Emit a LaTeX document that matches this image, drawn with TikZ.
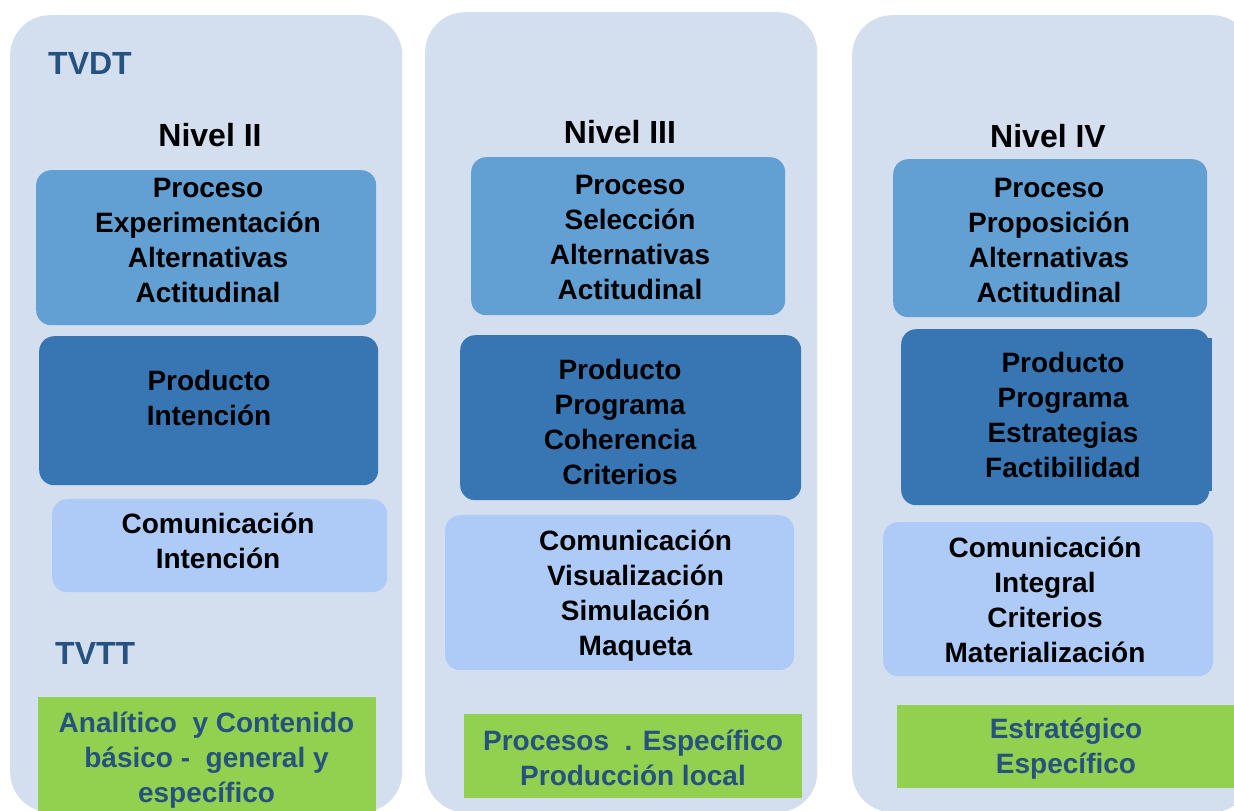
\documentclass[tikz,border=0pt]{standalone}
\usepackage{fontspec}
\setmainfont{Liberation Sans}
\definecolor{panelbg}{HTML}{D3DEEF}
\definecolor{procfill}{HTML}{629FD2}
\definecolor{prodfill}{HTML}{3776B3}
\definecolor{comfill}{HTML}{AECBF7}
\definecolor{greenfill}{HTML}{92D050}
\definecolor{darkblue}{HTML}{27527F}
\newcommand{\tst}{\rule{0pt}{21pt}}
\tikzset{
  panel/.style={fill=panelbg, draw=none, rounded corners=40pt, inner sep=0pt, anchor=north west},
  ibox/.style={draw=none, rounded corners=15pt, inner sep=0pt, anchor=north west},
  gbox/.style={fill=greenfill, draw=none, inner sep=0pt, anchor=north west},
  txt/.style={align=center, inner sep=0pt, anchor=north, text=black, font=\fontsize{28}{35}\selectfont\bfseries},
  gtxt/.style={txt, text=darkblue},
  head/.style={inner sep=0pt, anchor=base, text=black, font=\fontsize{32}{38}\selectfont\bfseries},
  tag/.style={inner sep=0pt, anchor=base west, text=darkblue, font=\fontsize{32}{38}\selectfont\bfseries}
}
\begin{document}
\begin{tikzpicture}[x=1pt,y=-1pt]
\useasboundingbox (0,0) rectangle (1234,811);
\clip (0,0) rectangle (1234,811);
\fill[white] (0,0) rectangle (1234,811);
% panels
\node[panel, minimum width=392pt, minimum height=797pt] (p1) at (10,15) {};
\node[panel, minimum width=392pt, minimum height=800pt] (p2) at (425,12) {};
\node[panel, minimum width=400pt, minimum height=797pt] (p3) at (852,15) {};
% panel 1 boxes
\node[ibox, fill=procfill, minimum width=340pt, minimum height=155pt] (pr1) at (36,170) {};
\node[ibox, fill=prodfill, minimum width=339pt, minimum height=149pt] (pd1) at (39,336) {};
\node[ibox, fill=comfill, minimum width=335pt, minimum height=93pt] (cm1) at (52,499) {};
\node[gbox, minimum width=338pt, minimum height=115pt] (gr1) at (38,697) {};
% panel 2 boxes
\node[ibox, fill=procfill, minimum width=314pt, minimum height=158pt] (pr2) at (471,157) {};
\node[ibox, fill=prodfill, minimum width=341pt, minimum height=165pt] (pd2) at (460,335) {};
\node[ibox, fill=comfill, minimum width=349pt, minimum height=155pt] (cm2) at (445,515) {};
\node[gbox, minimum width=338pt, minimum height=84pt] (gr2) at (464,714) {};
% panel 3 boxes
\node[ibox, fill=procfill, minimum width=314pt, minimum height=158pt] (pr3) at (893,159) {};
\node[ibox, fill=prodfill, minimum width=308pt, minimum height=176pt] (pd3) at (901,329) {};
\node[gbox, fill=prodfill, minimum width=12pt, minimum height=153pt] (pd3n) at (1200,338) {};
\node[ibox, fill=comfill, minimum width=330pt, minimum height=154pt] (cm3) at (883,522) {};
\node[gbox, minimum width=343pt, minimum height=83pt] (gr3) at (897,705) {};
% texts panel 1
\node[tag] (tvdt) at (48,74) {TVDT};
\node[head] (n2) at (210,146) {Nivel II};
\node[txt] (tpr1) at (208,176) {\tst Proceso\\Experimentación\\Alternativas\\Actitudinal};
\node[txt] (tpd1) at (209,369) {\tst Producto\\Intención};
\node[txt] (tcm1) at (218,512) {\tst Comunicación\\Intención};
\node[tag] (tvtt) at (55,664) {TVTT};
\node[gtxt] (tgr1) at (206.5,711) {\tst Analítico~ y Contenido\\básico -~ general y\\específico};
% texts panel 2
\node[head] (n3) at (620,143) {Nivel III};
\node[txt] (tpr2) at (630,173) {\tst Proceso\\Selección\\Alternativas\\Actitudinal};
\node[txt] (tpd2) at (620,358) {\tst Producto\\Programa\\Coherencia\\Criterios};
\node[txt] (tcm2) at (635.5,529) {\tst Comunicación\\Visualización\\Simulación\\Maqueta};
\node[gtxt] (tgr2) at (633,729) {\tst Procesos~ . Específico\\Producción local};
% texts panel 3
\node[head] (n4) at (1048,147) {Nivel IV};
\node[txt] (tpr3) at (1049,176) {\tst Proceso\\Proposición\\Alternativas\\Actitudinal};
\node[txt] (tpd3) at (1063,351) {\tst Producto\\Programa\\Estrategias\\Factibilidad};
\node[txt] (tcm3) at (1045,536) {\tst Comunicación\\Integral\\Criterios\\Materialización};
\node[gtxt] (tgr3) at (1066,717) {\tst Estratégico\\Específico};
\end{tikzpicture}
\end{document}
